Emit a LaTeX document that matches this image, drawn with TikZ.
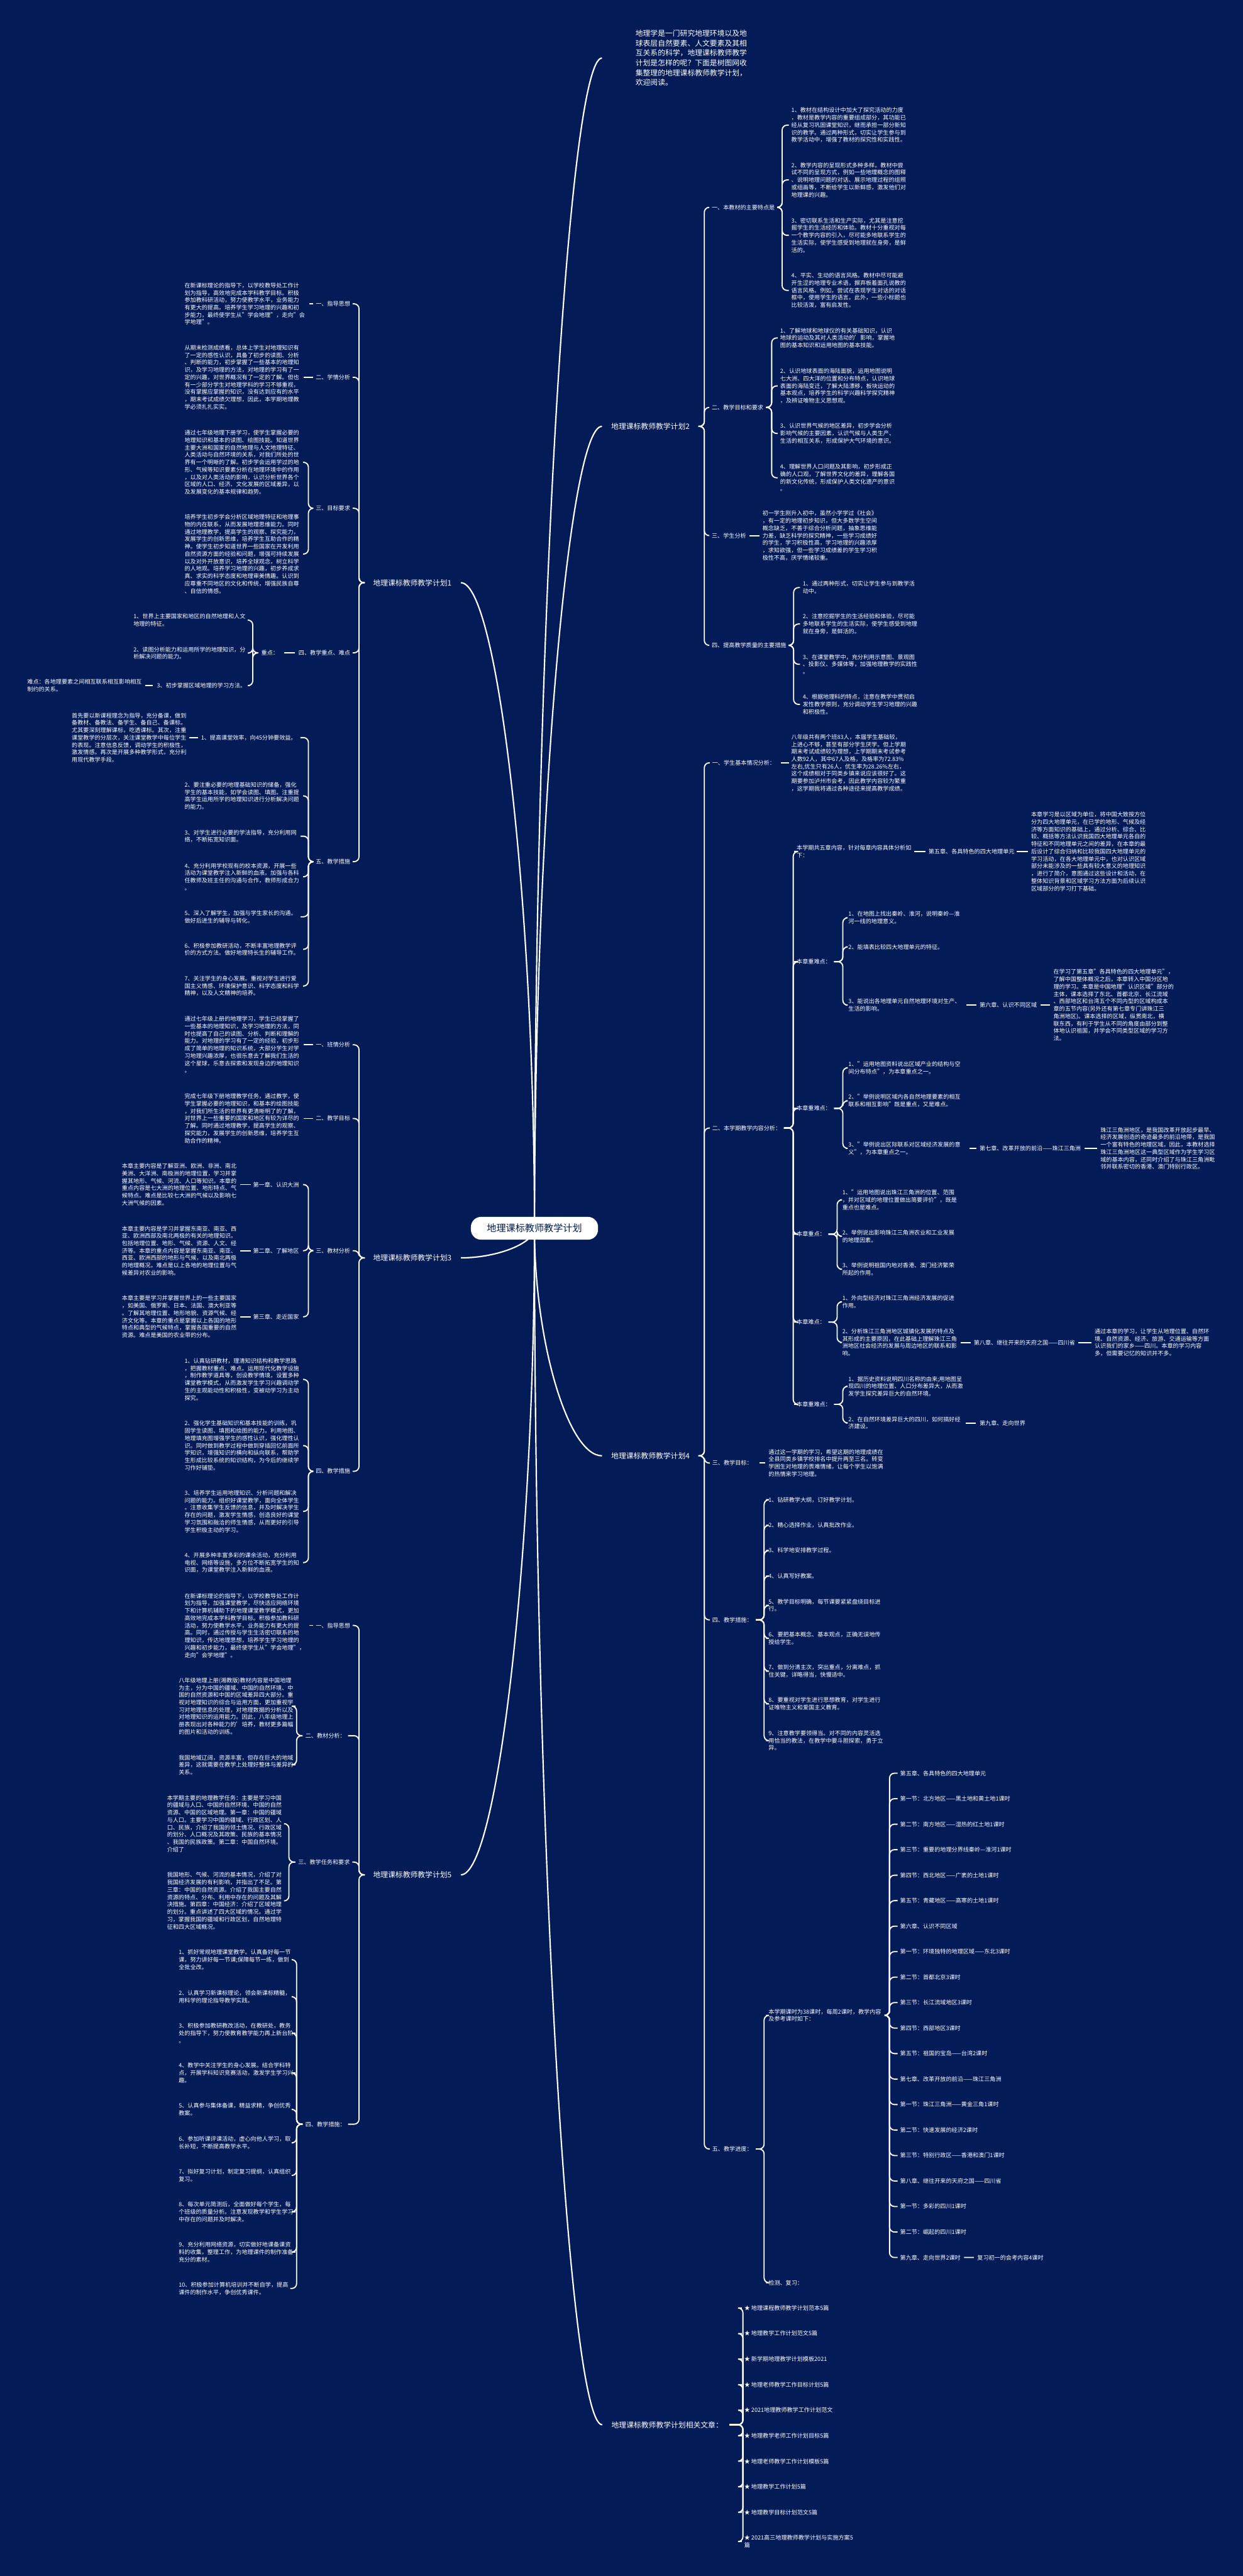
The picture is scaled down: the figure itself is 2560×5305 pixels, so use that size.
\documentclass[tikz,border=0pt]{standalone}
\usepackage{fontspec}
\setmainfont{Noto Sans CJK SC}
\usetikzlibrary{calc}
\definecolor{bgnavy}{RGB}{3,28,88}
\pgfdeclarelayer{bglayer}
\pgfdeclarelayer{lines}
\pgfsetlayers{bglayer,lines,main}
\newcommand\fsS{\fontsize{11.8pt}{15.2pt}\selectfont}
\newcommand\fsB{\fontsize{15.3pt}{20.3pt}\selectfont}
\newcommand\fsR{\fontsize{19.6pt}{23pt}\selectfont}
\newcommand\Rlk[5]{\draw[lk] ([xshift=#3]#1.east) -- ++(#4,0) |- ([xshift=-#5]#2.west);}
\newcommand\Llk[5]{\draw[lk] ([xshift=-#3]#1.west) -- ++(-#4,0) |- ([xshift=#5]#2.east);}
\newcommand\Rdash[4]{\draw[lk] ([xshift=#3]#1.east) -- ([xshift=-#4]#2.west);}
\newcommand\Ldash[4]{\draw[lk] ([xshift=-#3]#1.west) -- ([xshift=#4]#2.east);}
\newcommand\Rootlk[1]{\draw[rk] (root.center) .. controls ($(root.center)!0.5!(root.center|-#1)$) and ($(#1)!0.5!(#1-|root.center)$) .. (#1);}
\tikzset{
 tS/.style={font=\fsS, text=white, inner sep=0pt, align=left},
 tB/.style={font=\fsB, text=white, inner sep=0pt, align=left},
 lk/.style={draw=white, line width=2.4pt, rounded corners=10pt},
 rk/.style={draw=white, line width=2.8pt},
}
\begin{document}
\begin{tikzpicture}[x=1pt,y=-1pt]
\begin{pgfonlayer}{bglayer}
\fill[bgnavy] (0,0) rectangle (2560,5305);
\end{pgfonlayer}
\useasboundingbox (0,0) rectangle (2560,5305);

% root
\node[fill=white, rounded corners=21pt, minimum width=262pt, minimum height=47pt, inner sep=0pt, font=\fsR, text=bgnavy] (root) at (1101,2529.5) {地理课标教师教学计划};

% ---------------- intro ----------------
\node[tB,anchor=west] (intro) at (1309,119.5) {地理学是一门研究地理环境以及地\\球表层自然要素、人文要素及其相\\互关系的科学，地理课标教师教学\\计划是怎样的呢？下面是树图网收\\集整理的地理课标教师教学计划，\\欢迎阅读。};

% ---------------- plan 2 ----------------
\node[tB,anchor=west] (p2) at (1259,878) {地理课标教师教学计划2};
\node[tS,anchor=west] (s21) at (1466,427) {一、本教材的主要特点是};
\node[tS,anchor=west] (i211) at (1630,257.7) {1、教材在结构设计中加大了探究活动的力度\\，教材是教学内容的重要组成部分，其功能已\\经从复习巩固课堂知识，继而承担一部分新知\\识的教学。通过两种形式，切实让学生参与到\\教学活动中，增强了教材的探究性和实践性。};
\node[tS,anchor=west] (i212) at (1630,370.5) {2、教学内容的呈现形式多种多样。教材中尝\\试不同的呈现方式，例如一些地理概念的图释\\、说明地理问题的对话、展示地理过程的组照\\或组画等，不断给学生以新鲜感，激发他们对\\地理课的兴趣。};
\node[tS,anchor=west] (i213) at (1630,484.6) {3、密切联系生活和生产实际，尤其是注意挖\\掘学生的生活经历和体验。教材十分重视对每\\一个教学内容的引入，尽可能多地联系学生的\\生活实际，使学生感受到地理就在身旁，是鲜\\活的。};
\node[tS,anchor=west] (i214) at (1630,598) {4、平实、生动的语言风格。教材中尽可能避\\开生涩的地理专业术语，摒弃板着面孔说教的\\语言风格。例如，尝试在表现学生对话的对话\\框中，使用学生的语言。此外，一些小标题也\\比较活泼，富有启发性。};
\node[tS,anchor=west] (s22) at (1466,839) {二、教学目标和要求};
\node[tS,anchor=west] (i221) at (1607,696) {1、了解地球和地球仪的有关基础知识，认识\\地球的运动及其对人类活动的'影响，掌握地\\图的基本知识和运用地图的基本技能。};
\node[tS,anchor=west] (i222) at (1607,794.8) {2、认识地球表面的海陆面貌，运用地图说明\\七大洲、四大洋的位置和分布特点，认识地球\\表面的海陆变迁，了解大陆漂移，板块运动的\\基本观点，培养学生的科学兴趣科学探究精神\\，及辨证唯物主义思想观。};
\node[tS,anchor=west] (i223) at (1607,892.6) {3、认识世界气候的地区差异，初步学会分析\\影响气候的主要因素，认识气候与人类生产、\\生活的相互关系，形成保护大气环境的意识。};
\node[tS,anchor=west] (i224) at (1607,984) {4、理解世界人口问题及其影响，初步形成正\\确的人口观，了解世界文化的差异，理解各国\\的新文化传统，形成保护人类文化遗产的意识\\。};
\node[tS,anchor=west] (s23) at (1466,1103) {三、学生分析};
\node[tS,anchor=west] (i231) at (1570.5,1103) {初一学生刚升入初中，虽然小学学过《社会》\\，有一定的地理初步知识，但大多数学生空间\\概念缺乏，不善于综合分析问题，抽象思维能\\力差，缺乏科学的探究精神，一些学习成绩好\\的学生，学习积极性高，学习地理的兴趣浓厚\\，求知欲强，但一些学习成绩差的学生学习积\\极性不高，厌学情绪较重。};
\node[tS,anchor=west] (s24) at (1466,1329) {四、提高教学质量的主要措施};
\node[tS,anchor=west] (i241) at (1653.5,1210) {1、通过两种形式，切实让学生参与到教学活\\动中。};
\node[tS,anchor=west] (i242) at (1653.5,1285) {2、注意挖掘学生的生活经验和体验，尽可能\\多地联系学生的生活实际，使学生感受到地理\\就在身旁，是鲜活的。};
\node[tS,anchor=west] (i243) at (1653.5,1368) {3、在课堂教学中，充分利用示意图、景观图\\、投影仪、多媒体等，加强地理教学的实践性\\。};
\node[tS,anchor=west] (i244) at (1653.5,1450.6) {4、根据地理科的特点，注意在教学中贯彻启\\发性教学原则，充分调动学生学习地理的兴趣\\和积极性。};

% ---------------- plan 4 ----------------
\node[tB,anchor=west] (p4) at (1259,2998) {地理课标教师教学计划4};
\node[tS,anchor=west] (s41) at (1467,1571) {一、学生基本情况分析：};
\node[tS,anchor=west] (i411) at (1630,1571) {八年级共有两个班83人，本届学生基础较，\\上进心不够，甚至有部分学生厌学。但上学期\\期末考试成绩较为理想，上学期期末考试参考\\人数92人，其中67人及格，及格率为72.83\%\\左右,优生只有26人，优生率为28.26\%左右，\\这个成绩相对于同类乡镇来说应该很好了。这\\期要参加泸州市会考，因此教学内容较为繁重\\，这学期我将通过各种途径来提高教学成绩。};
\node[tS,anchor=west] (s42) at (1467,2323) {二、本学期教学内容分析：};
\node[tS,anchor=west] (a421) at (1641,1753.5) {本学期共五章内容，针对每章内容具体分析如\\下：};
\node[tS,anchor=west] (c5) at (1912.5,1753.5) {第五章、各具特色的四大地理单元};
\node[tS,anchor=west] (d5) at (2124,1753.5) {本章学习是以区域为单位，将中国大致按方位\\分为四大地理单元，在已学的地形、气候及经\\济等方面知识的基础上，通过分析、综合、比\\较、概括等方法认识我国四大地理单元各自的\\特征和不同地理单元之间的差异，在本章的最\\后设计了综合归纳和比较我国四大地理单元的\\学习活动，在各大地理单元中，也对认识区域\\部分未能涉及的一些具有较大意义的地理知识\\，进行了简介，意图通过这些设计和活动，在\\整体知识背景和区域学习方法方面为后续认识\\区域部分的学习打下基础。};
\node[tS,anchor=west] (a422) at (1641,1980.5) {本章重难点：};
\node[tS,anchor=west] (b4221) at (1747.6,1890) {1、在地图上找出秦岭、淮河，说明秦岭—淮\\河一线的地理意义。};
\node[tS,anchor=west] (b4222) at (1747.6,1950) {2、能填表比较四大地理单元的特征。};
\node[tS,anchor=west] (b4223) at (1747.6,2070) {3、能说出各地理单元自然地理环境对生产、\\生活的影响。};
\node[tS,anchor=west] (c6) at (2017.7,2070) {第六章、认识不同区域};
\node[tS,anchor=west] (d6) at (2170,2070) {在学习了第五章"各具特色的四大地理单元"，\\了解中国整体概况之后，本章转入中国分区地\\理的学习。本章是中国地理"认识区域"部分的\\主体，课本选择了东北、首都北京、长江流域\\、西部地区和台湾五个不同内型的区域构成本\\章的五节内容(另外还有第七章专门讲珠江三\\角洲地区)。课本选择的区域，纵贯南北，横\\联东西，有利于学生从不同的角度由部分到整\\体地认识祖国，并学会不同类型区域的学习方\\法。};
\node[tS,anchor=west] (a423) at (1641,2282.5) {本章重难点：};
\node[tS,anchor=west] (b4231) at (1747.6,2199) {1、"运用地图资料说出区域产业的结构与空\\间分布特点"，为本章重点之一。};
\node[tS,anchor=west] (b4232) at (1747.6,2267) {2、"举例说明区域内各自然地理要素的相互\\联系和相互影响"既是重点，又是难点。};
\node[tS,anchor=west] (b4233) at (1747.6,2365) {3、"举例说出区际联系对区域经济发展的意\\义"，为本章重点之一。};
\node[tS,anchor=west] (c7) at (2017.7,2365) {第七章、改革开放的前沿——珠江三角洲};
\node[tS,anchor=west] (d7) at (2266.7,2365) {珠江三角洲地区，是我国改革开放起步最早、\\经济发展创造的奇迹最多的前沿地带，是我国\\一个富有特色的地理区域。因此，本教材选择\\珠江三角洲地区这一典型区域作为学生学习区\\域的基本内容，还同时介绍了与珠江三角洲毗\\邻并联系密切的香港、澳门特别行政区。};
\node[tS,anchor=west] (a424) at (1641,2541.6) {本章重点：};
\node[tS,anchor=west] (b4241) at (1735,2471) {1、"运用地图说出珠江三角洲的位置、范围\\，并对区域的地理位置做出简要评价"，既是\\重点也是难点。};
\node[tS,anchor=west] (b4242) at (1735,2546) {2、举例说出影响珠江三角洲农业和工业发展\\的地理因素。};
\node[tS,anchor=west] (b4243) at (1735,2614) {3、举例说明祖国内地对香港、澳门经济繁荣\\所起的作用。};
\node[tS,anchor=west] (a425) at (1641,2722.8) {本章难点：};
\node[tS,anchor=west] (b4251) at (1735,2681) {1、外向型经济对珠江三角洲经济发展的促进\\作用。};
\node[tS,anchor=west] (b4252) at (1735,2764.6) {2、分析珠江三角洲地区城镇化发展的特点及\\其形成的主要原因，在此基础上理解珠江三角\\洲地区社会经济的发展与周边地区的联系和影\\响。};
\node[tS,anchor=west] (c8) at (2005.8,2764.6) {第八章、继往开来的天府之国——四川省};
\node[tS,anchor=west] (d8) at (2254.8,2764.6) {通过本章的学习，让学生从地理位置、自然环\\境、自然资源、经济、旅游、交通运输等方面\\认识我们的家乡——四川。本章的学习内容\\多，但需要记忆的知识并不多。};
\node[tS,anchor=west] (a426) at (1641,2892) {本章重难点：};
\node[tS,anchor=west] (b4261) at (1747.6,2855) {1、据历史资料说明四川名称的由来;用地图呈\\现四川的地理位置、人口分布差异大，从而激\\发学生探究差异巨大的自然环境。};
\node[tS,anchor=west] (b4262) at (1747.6,2930.4) {2、在自然环境差异巨大的四川，如何搞好经\\济建设。};
\node[tS,anchor=west] (c9) at (2017.7,2930.4) {第九章、走向世界};
\node[tS,anchor=west] (s43) at (1467,3013) {三、教学目标：};
\node[tS,anchor=west] (i431) at (1583,3013) {通过这一学期的学习，希望这期的地理成绩在\\全县同类乡镇学校排名中提升两至三名。转变\\学困生对地理的畏难情绪，让每个学生以饱满\\的热情来学习地理。};
\node[tS,anchor=west] (s44) at (1467,3336) {四、教学措施：};
\node[tS,anchor=west] (i441) at (1583,3088.5) {1、钻研教学大纲，订好教学计划。};
\node[tS,anchor=west] (i442) at (1583,3141) {2、精心选择作业，认真批改作业。};
\node[tS,anchor=west] (i443) at (1583,3193) {3、科学地安排教学过程。};
\node[tS,anchor=west] (i444) at (1583,3245.6) {4、认真写好教案。};
\node[tS,anchor=west] (i445) at (1583,3306) {5、教学目标明确，每节课要紧紧盘绕目标进\\行。};
\node[tS,anchor=west] (i446) at (1583,3374) {6、要把基本概念、基本观点，正确无误地传\\授给学生。};
\node[tS,anchor=west] (i447) at (1583,3441.7) {7、做到分清主次，突出重点，分离难点，抓\\住关键，详略得当，快慢适中。};
\node[tS,anchor=west] (i448) at (1583,3509) {8、要重视对学生进行思想教育，对学生进行\\证唯物主义和爱国主义教育。};
\node[tS,anchor=west] (i449) at (1583,3584.6) {9、注意教学要领得当。对不同的内容灵活选\\用恰当的教法，在教学中要斗胆探索，勇于立\\异。};
\node[tS,anchor=west] (s45) at (1467,4425.6) {五、教学进度：};
\node[tS,anchor=west] (a451) at (1583,4150.3) {本学期课时为38课时，每周2课时，教学内容\\及参考课时如下：};
\foreach \k/\s in {1/第五章、各具特色的四大地理单元,2/第一节：北方地区——黑土地和黄土地1课时,3/第二节：南方地区——湿热的红土地1课时,4/第三节：重要的地理分界线秦岭—淮河1课时,5/第四节：西北地区——广袤的土地1课时,6/第五节：青藏地区——高寒的土地1课时,7/第六章、认识不同区域,8/第一节：环境独特的地理区域——东北3课时,9/第二节：首都北京3课时,10/第三节：长江流域地区3课时,11/第四节：西部地区3课时,12/第五节：祖国的宝岛——台湾2课时,13/第七章、改革开放的前沿——珠江三角洲,14/第一节：珠江三角洲——黄金三角1课时,15/第二节：快速发展的经济2课时,16/第三节：特别行政区——香港和澳门1课时,17/第八章、继往开来的天府之国——四川省,18/第一节：多彩的四川1课时,19/第二节：崛起的四川1课时,20/第九章、走向世界2课时}
  \node[tS,anchor=west] (q\k) at (1854,{3651.7+52.49*(\k-1)}) {\s};
\node[tS,anchor=west] (q21) at (2013,4649) {复习初一的会考内容4课时};
\node[tS,anchor=west] (a452) at (1583,4701) {检测、复习：};

% ---------------- related ----------------
\node[tB,anchor=west] (pr) at (1259.5,4993.5) {地理课标教师教学计划相关文章：};
\foreach \k/\s in {1/★ 地理课程教师教学计划范本5篇,2/★ 地理教学工作计划范文5篇,3/★ 新学期地理教学计划模板2021,4/★ 地理老师教学工作目标计划5篇,5/★ 2021地理教师教学工作计划范文,6/★ 地理教学老师工作计划目标5篇,7/★ 地理老师教学工作计划模板5篇,8/★ 地理教学工作计划5篇,9/★ 地理教学目标计划范文5篇}
  \node[tS,anchor=west] (r\k) at (1533,{4753+52.6*(\k-1)}) {\s};
\node[tS,anchor=west] (r10) at (1533,5234.1) {★ 2021高三地理教师教学计划与实施方案5\\篇};

% ---------------- plan 1 ----------------
\node[tB,anchor=west] (p1) at (768.5,1200) {地理课标教师教学计划1};
\node[tS,anchor=east] (l11) at (721.5,625.7) {一、指导思想};
\node[tS,anchor=west] (t11) at (380,625.7) {在新课标理论的指导下，以学校教导处工作计\\划为指导，高效地完成本学科教学目标。积极\\参加教科研活动，努力使教学水平，业务能力\\有更大的提高。培养学生学习地理的兴趣和初\\步能力，最终使学生从"学会地理"，走向"会\\学地理"。};
\node[tS,anchor=east] (l12) at (721.5,777) {二、学情分析};
\node[tS,anchor=west] (t12) at (380,777) {从期末检测成绩看，总体上学生对地理知识有\\了一定的感性认识，具备了初步的读图、分析\\、判断的能力，初步掌握了一些基本的地理知\\识，及学习地理的方法，对地理的学习有了一\\定的兴趣，对世界概况有了一定的了解。但也\\有一少部分学生对地理学科的学习不够重视，\\没有掌握应掌握的知识，没有达到应有的水平\\，期末考试成绩欠理想，因此，本学期地理教\\学必须扎扎实实。};
\node[tS,anchor=east] (l13) at (721.5,1046.7) {三、目标要求};
\node[tS,anchor=west] (t131) at (380,952) {通过七年级地理下册学习，使学生掌握必要的\\地理知识和基本的读图、绘图技能。知道世界\\主要大洲和国家的自然地理与人文地理特征、\\人类活动与自然环境的关系，对我们所处的世\\界有一个明晰的了解。初步学会运用学过的地\\形、气候等知识要素分析在地理环境中的作用\\，以及对人类活动的影响，认识分析世界各个\\区域的人口、经济、文化发展的区域差异，以\\及发展变化的基本规律和趋势。};
\node[tS,anchor=west] (t132) at (380,1141) {培养学生初步学会分析区域地理特征和地理事\\物的内在联系，从而发展地理思维能力。同时\\通过地理教学，提高学生的观察、探究能力，\\发展学生的创新思维，培养学生互助合作的精\\神。使学生初步知道世界一些国家在开发利用\\自然资源方面的经验和问题，增强可持续发展\\以及对外开放意识，培养全球观念，树立科学\\的人地观。培养学习地理的兴趣，初步养成求\\真、求实的科学态度和地理审美情趣。认识到\\应尊重不同地区的文化和传统，增强民族自尊\\、自信的情感。};
\node[tS,anchor=east] (l14) at (721.5,1344.4) {四、教学重点、难点};
\node[tS,anchor=east] (k14) at (574,1344.4) {重点：};
\node[tS,anchor=west] (t141) at (274.7,1277) {1、世界上主要国家和地区的自然地理和人文\\地理的特征。};
\node[tS,anchor=west] (t142) at (274.7,1345) {2、读图分析能力和运用所学的地理知识，分\\析解决问题的能力。};
\node[tS,anchor=east] (t143) at (507,1412) {3、初步掌握区域地理的学习方法。};
\node[tS,anchor=west] (t144) at (56,1412) {难点：各地理要素之间相互联系相互影响相互\\制约的关系。};
\node[tS,anchor=east] (l15) at (721.5,1774.5) {五、教学措施};
\node[tS,anchor=east] (t151) at (611,1519) {1、提高课堂效率，向45分钟要效益。};
\node[tS,anchor=west] (t1511) at (147.7,1519) {首先要以新课程理念为指导，充分备课，做到\\备教材、备教法、备学生、备自己、备课标。\\尤其要深刻理解课标，吃透课标。其次，注重\\课堂教学的分层次，关注课堂教学中每位学生\\的表现。注意信息反馈，调动学生的积极性，\\激发情感。再次是开展多种教学形式，充分利\\用现代教学手段。};
\node[tS,anchor=west] (t152) at (380,1639) {2、要注重必要的地理基础知识的储备，强化\\学生的基本技能，如学会读图、填图。注重提\\高学生运用所学的地理知识进行分析解决问题\\的能力。};
\node[tS,anchor=west] (t153) at (380,1722) {3、对学生进行必要的学法指导，充分利用网\\络，不断拓宽知识面。};
\node[tS,anchor=west] (t154) at (380,1805.6) {4、充分利用学校现有的校本资源，开展一些\\活动为课堂教学注入新鲜的血液。加强与各科\\任教师及班主任的沟通与合作，教师形成合力\\。};
\node[tS,anchor=west] (t155) at (380,1888) {5、深入了解学生，加强与学生家长的沟通。\\做好后进生的辅导与转化。};
\node[tS,anchor=west] (t156) at (380,1955) {6、积极参加教研活动，不断丰富地理教学评\\价的方式方法。做好地理特长生的辅导工作。};
\node[tS,anchor=west] (t157) at (380,2030.6) {7、关注学生的身心发展。重视对学生进行爱\\国主义情感、环境保护意识、科学态度和科学\\精神，以及人文精神的培养。};

% ---------------- plan 3 ----------------
\node[tB,anchor=west] (p3) at (768.5,2590.4) {地理课标教师教学计划3};
\node[tS,anchor=east] (l31) at (721.5,2151.6) {一、班情分析};
\node[tS,anchor=west] (t31) at (380,2151.6) {通过七年级上册的地理学习，学生已经掌握了\\一些基本的地理知识，及学习地理的方法，同\\时也提高了自己的读图、分析、判断和理解的\\能力。对地理的学习有了一定的经验，初步形\\成了简单的地理的知识系统，大部分学生对学\\习地理兴趣浓厚，也很乐意去了解我们生活的\\这个星球，乐意去探索和发现身边的地理知识\\。};
\node[tS,anchor=east] (l32) at (721.5,2303.4) {二、教学目标};
\node[tS,anchor=west] (t32) at (380,2303.4) {完成七年级下册地理教学任务，通过教学，使\\学生掌握必要的地理知识，和基本的绘图技能\\，对我们所生活的世界有更清晰明了的了解，\\对世界上一些重要的国家和地区有较为详尽的\\了解。同时通过地理教学，提高学生的观察、\\探究能力，发展学生的创新思维，培养学生互\\助合作的精神。};
\node[tS,anchor=east] (l33) at (721.5,2575.7) {三、教材分析};
\node[tS,anchor=east] (m331) at (616,2439.5) {第一章、认识大洲};
\node[tS,anchor=west] (u331) at (251,2439.5) {本章主要内容是了解亚洲、欧洲、非洲、南北\\美洲、大洋洲、南极洲的地理位置，学习并掌\\握其地形、气候、河流、人口等知识。本章的\\重点内容是七大洲的地理位置、地形特点、气\\候特点。难点是比较七大洲的气候以及影响七\\大洲气候的因素。};
\node[tS,anchor=east] (m332) at (616,2575.7) {第二章、了解地区};
\node[tS,anchor=west] (u332) at (251,2575.7) {本章主要内容是学习并掌握东南亚、南亚、西\\亚、欧洲西部及南北两极的有关的地理知识。\\包括地理位置、地形、气候、资源、人文、经\\济等。本章的重点内容是掌握东南亚、南亚、\\西亚、欧洲西部的地形与气候，以及南北两极\\的地理概况。难点是以上各地的地理位置与气\\候差异对农业的影响。};
\node[tS,anchor=east] (m333) at (616,2711.8) {第三章、走近国家};
\node[tS,anchor=west] (u333) at (251,2711.8) {本章主要是学习并掌握世界上的一些主要国家\\，如美国、俄罗斯、日本、法国、澳大利亚等\\。了解其地理位置、地形地貌、资源气候、经\\济文化等。本章的重点是掌握以上各国的地形\\特点和典型的气候特点，掌握各国重要的自然\\资源。难点是美国的农业带的分布。};
\node[tS,anchor=east] (l34) at (721.5,3030) {四、教学措施};
\node[tS,anchor=west] (t341) at (380,2840.7) {1、认真钻研教材，理清知识结构和教学思路\\，把握教材重点、难点。运用现代化教学设施\\，制作教学道具等，创设教学情境，设置多种\\课堂教学模式，从而激发学生学习兴趣调动学\\生的主观能动性和积极性，变被动学习为主动\\探究。};
\node[tS,anchor=west] (t342) at (380,2977) {2、强化学生基础知识和基本技能的训练，巩\\固学生读图、填图和绘图的能力。利用地图、\\地理填充图增强学生的感性认识，强化理性认\\识。同时做到教学过程中做到穿插回忆前面所\\学知识，增强知识的横向和纵向联系，帮助学\\生形成比较系统的知识结构，为今后的继续学\\习作好铺垫。};
\node[tS,anchor=west] (t343) at (380,3112.6) {3、培养学生运用地理知识、分析问题和解决\\问题的能力。组织好课堂教学，面向全体学生\\。注意收集学生反馈的信息，并及时解决学生\\存在的问题，激发学生情感，创造良好的课堂\\学习氛围和融洽的师生情感，从而更好的引导\\学生积极主动的学习。};
\node[tS,anchor=west] (t344) at (380,3218) {4、开展多种丰富多彩的课余活动，充分利用\\电视、网络等设施，多方位不断拓宽学生的知\\识面，为课堂教学注入新鲜的血液。};

% ---------------- plan 5 ----------------
\node[tB,anchor=west] (p5) at (768.5,3861) {地理课标教师教学计划5};
\node[tS,anchor=east] (l51) at (721.5,3347.4) {一、指导思想};
\node[tS,anchor=west] (t51) at (380,3347.4) {在新课标理论的指导下，以学校教导处工作计\\划为指导，加强课堂教学，尽快适应网络环境\\下和计算机辅助下的地理课堂教学模式，更加\\高效地完成本学科教学目标。积极参加教科研\\活动，努力使教学水平，业务能力有更大的提\\高。同时，通过传授与学生生活密切联系的地\\理知识，传达地理思想，培养学生学习地理的\\兴趣和初步能力，最终使学生从"学会地理"，\\走向"会学地理"。};
\node[tS,anchor=east] (l52) at (712,3574.5) {二、教材分析：};
\node[tS,anchor=west] (t521) at (368,3513.6) {八年级地理上册(湘教版)教材内容是中国地理\\为主，分为中国的疆域、中国的自然环境、中\\国的自然资源和中国的区域差异四大部分。重\\视对地理知识的综合与运用方面，更加重视学\\习对地理信息的处理，对地理数据的分析以及\\对地理知识的运用能力。因此，八年级地理上\\册表现出对各种能力的'培养，教材更多篇幅\\的图片和活动的训练。};
\node[tS,anchor=west] (t522) at (368,3634.5) {我国地域辽阔，资源丰富，但存在巨大的地域\\差异，这就需要在教学上处理好整体与差异的\\关系。};
\node[tS,anchor=east] (l53) at (720.8,3834.7) {三、教学任务和要求};
\node[tS,anchor=west] (t531) at (344,3755.6) {本学期主要的地理教学任务：主要是学习中国\\的疆域与人口、中国的自然环境、中国的自然\\资源、中国的区域地理。第一章：中国的疆域\\与人口。主要学习中国的疆域、行政区划、人\\口、民族，介绍了我国的领土情况、行政区域\\的划分、人口概况及其政策、民族的基本情况\\、我国的民族政策。第二章：中国自然环境。\\介绍了};
\node[tS,anchor=west] (t532) at (344,3914.7) {我国地形、气候、河流的基本情况，介绍了对\\我国经济发展的有利影响，并指出了不足。第\\三章：中国的自然资源。介绍了我国主要自然\\资源的特点、分布、利用中存在的问题及其解\\决措施。第四章：中国经济：介绍了区域地理\\的划分。重点讲述了四大区域的情况。通过学\\习，掌握我国的疆域和行政区划，自然地理特\\征和四大区域概况。};
\node[tS,anchor=east] (l54) at (712,4374.5) {四、教学措施：};
\node[tS,anchor=west] (t541) at (368,4035.7) {1、抓好常规地理课堂教学。认真备好每一节\\课，努力讲好每一节课;保障每节一练，做到\\全批全改。};
\node[tS,anchor=west] (t542) at (368,4112) {2、认真学习新课标理论，领会新课标精髓，\\用科学的理论指导教学实践。};
\node[tS,anchor=west] (t543) at (368,4187) {3、积极参加教研教改活动，在教研处，教务\\处的指导下，努力使教育教学能力再上新台阶\\。};
\node[tS,anchor=west] (t544) at (368,4269) {4、教学中关注学生的身心发展。结合学科特\\点，开展学科知识竞赛活动，激发学生学习兴\\趣。};
\node[tS,anchor=west] (t545) at (368,4344) {5、认真参与集体备课，精益求精，争创优秀\\教案。};
\node[tS,anchor=west] (t546) at (368,4413) {6、参加听课评课活动，虚心向他人学习，取\\长补短，不断提高教学水平。};
\node[tS,anchor=west] (t547) at (368,4480) {7、拟好复习计划，制定复习提纲，认真组织\\复习。};
\node[tS,anchor=west] (t548) at (368,4555) {8、每次单元简测后，全面做好每个学生，每\\个班级的质量分析。注意发现教学和学生学习\\中存在的问题并及时解决。};
\node[tS,anchor=west] (t549) at (368,4637.8) {9、充分利用网络资源，切实做好地课备课资\\料的收集，整理工作，为地理课件的制作准备\\充分的素材。};
\node[tS,anchor=west] (t5410) at (368,4712.8) {10、积极参加计算机培训并不断自学，提高\\课件的制作水平，争创优秀课件。};

% ---------------- connectors ----------------
\coordinate (eI) at ([xshift=-69pt]intro.west);
\coordinate (e2) at ([xshift=-19pt]p2.west);
\coordinate (e4) at ([xshift=-19pt]p4.west);
\coordinate (eR) at ([xshift=-19pt]pr.west);
\coordinate (e1) at ([xshift=19pt]p1.east);
\coordinate (e3) at ([xshift=19pt]p3.east);
\coordinate (e5) at ([xshift=19pt]p5.east);
\begin{pgfonlayer}{lines}
\foreach \e in {eI,e2,e4,eR,e1,e3,e5} {\Rootlk{\e}}
% plan 2
\foreach \c in {s21,s22,s23,s24} {\Rlk{p2}{\c}{18pt}{12}{5pt}}
\foreach \c in {i211,i212,i213,i214} {\Rlk{s21}{\c}{6pt}{9}{5pt}}
\foreach \c in {i221,i222,i223,i224} {\Rlk{s22}{\c}{5pt}{12}{5pt}}
\Rdash{s23}{i231}{7pt}{5.5pt}
\foreach \c in {i241,i242,i243,i244} {\Rlk{s24}{\c}{5pt}{10}{5.5pt}}
% plan 4
\foreach \c in {s41,s42,s43,s44,s45} {\Rlk{p4}{\c}{18pt}{12}{5pt}}
\Rdash{s41}{i411}{12pt}{5pt}
\foreach \c in {a421,a422,a423,a424,a425,a426} {\Rlk{s42}{\c}{6pt}{19}{5pt}}
\Rdash{a421}{c5}{6pt}{5.5pt}
\Rdash{c5}{d5}{5pt}{7pt}
\foreach \c in {b4221,b4222,b4223} {\Rlk{a422}{\c}{6pt}{18}{5pt}}
\Rdash{b4223}{c6}{12pt}{6.5pt}
\Rdash{c6}{d6}{7pt}{7pt}
\foreach \c in {b4231,b4232,b4233} {\Rlk{a423}{\c}{6pt}{18}{5pt}}
\Rdash{b4233}{c7}{18pt}{6.5pt}
\Rdash{c7}{d7}{7pt}{7pt}
\foreach \c in {b4241,b4242,b4243} {\Rlk{a424}{\c}{6pt}{18}{5pt}}
\foreach \c in {b4251,b4252} {\Rlk{a425}{\c}{6pt}{18}{5pt}}
\Rdash{b4252}{c8}{7pt}{6pt}
\Rdash{c8}{d8}{6pt}{7pt}
\foreach \c in {b4261,b4262} {\Rlk{a426}{\c}{6pt}{18}{5pt}}
\Rdash{b4262}{c9}{11pt}{7pt}
\Rdash{s43}{i431}{14pt}{7pt}
\foreach \c in {i441,i442,i443,i444,i445,i446,i447,i448,i449} {\Rlk{s44}{\c}{7pt}{17}{5pt}}
\foreach \c in {a451,a452} {\Rlk{s45}{\c}{7pt}{17}{5pt}}
\foreach \k in {1,...,20} {\Rlk{a451}{q\k}{8pt}{9}{5pt}}
\Rdash{q20}{q21}{7pt}{7pt}
% related
\foreach \k in {1,...,10} {\Rlk{pr}{r\k}{13pt}{28}{5pt}}
% plan 1
\foreach \c in {l11,l12,l13,l14,l15} {\Llk{p1}{\c}{17pt}{12}{5pt}}
\Ldash{l11}{t11}{5pt}{9pt}
\Ldash{l12}{t12}{5pt}{9pt}
\foreach \c in {t131,t132} {\Llk{l13}{\c}{5pt}{10}{8pt}}
\Ldash{l14}{k14}{7pt}{12pt}
\foreach \c in {t141,t142,t143} {\Llk{k14}{\c}{6pt}{11.5}{7pt}}
\Ldash{t143}{t144}{8pt}{7pt}
\foreach \c in {t151,t152,t153,t154,t155,t156,t157} {\Llk{l15}{\c}{5pt}{10}{8pt}}
\Ldash{t151}{t1511}{6pt}{6pt}
% plan 3
\foreach \c in {l31,l32,l33,l34} {\Llk{p3}{\c}{17pt}{12}{5pt}}
\Ldash{l31}{t31}{5pt}{9pt}
\Ldash{l32}{t32}{5pt}{9pt}
\foreach \c in {m331,m332,m333} {\Llk{l33}{\c}{5pt}{10}{8pt}}
\Ldash{m331}{u331}{5pt}{7pt}
\Ldash{m332}{u332}{5pt}{7pt}
\Ldash{m333}{u333}{5pt}{7pt}
\foreach \c in {t341,t342,t343,t344} {\Llk{l34}{\c}{5pt}{10}{8pt}}
% plan 5
\foreach \c in {l51,l52,l53,l54} {\Llk{p5}{\c}{17pt}{12}{5pt}}
\Ldash{l51}{t51}{5pt}{9pt}
\foreach \c in {t521,t522} {\Llk{l52}{\c}{6pt}{12}{4pt}}
\foreach \c in {t531,t532} {\Llk{l53}{\c}{5.6pt}{13.4}{5pt}}
\foreach \c in {t541,t542,t543,t544,t545,t546,t547,t548,t549,t5410} {\Llk{l54}{\c}{6pt}{12}{4pt}}
\end{pgfonlayer}
\end{tikzpicture}
\end{document}
